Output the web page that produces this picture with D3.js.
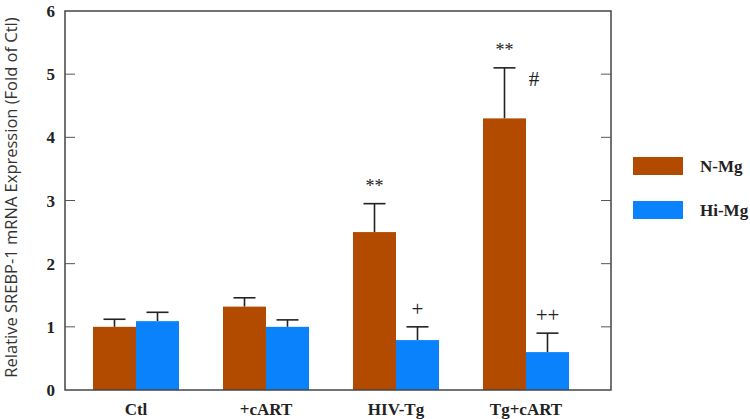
<!DOCTYPE html>
<html>
<head>
<meta charset="utf-8">
<script src="https://cdn.jsdelivr.net/npm/d3@7"></script>
<style>
  body { margin: 0; background: #fff; }
</style>
</head>
<body>
<div id="chart"></div>
<script>
// Data
const groups = ["Ctl", "+cART", "HIV-Tg", "Tg+cART"];
const series = ["N-Mg", "Hi-Mg"];
const nMg = [1.0, 1.32, 2.5, 4.3];
const nMgErr = [0.12, 0.14, 0.45, 0.8];
const hiMg = [1.09, 1.0, 0.79, 0.6];
const hiMgErr = [0.14, 0.11, 0.21, 0.3];
const nMgMarks = ["", "", "**", "**"];
const hiMgMarks = ["", "", "+", "++"];
const yTicks = [0, 1, 2, 3, 4, 5, 6];
const colors = ["#b24a00", "#0a82fb"];

const W = 750, H = 419;
const plot = { left: 65, right: 611, top: 11, bottom: 390 };
const barW = 43;

const svg = d3.select("#chart").append("svg")
  .attr("width", W).attr("height", H);

const x = d3.scalePoint().domain(groups).range([136, 526]);
const y = d3.scaleLinear().domain([0, 6]).range([plot.bottom, plot.top]);

const rows = [];
groups.forEach((g, i) => {
  rows.push({ g, s: 0, v: nMg[i], e: nMgErr[i], m: nMgMarks[i] });
  rows.push({ g, s: 1, v: hiMg[i], e: hiMgErr[i], m: hiMgMarks[i] });
});
const bx = d => x(d.g) + (d.s === 0 ? -barW : 0);

// Error bars (drawn under bars)
const eb = svg.append("g").attr("stroke", "#222").attr("stroke-width", 1.6);
eb.selectAll(".ev").data(rows).join("line")
  .attr("x1", d => bx(d) + barW / 2).attr("x2", d => bx(d) + barW / 2)
  .attr("y1", d => y(d.v)).attr("y2", d => y(d.v + d.e));
eb.selectAll(".ec").data(rows).join("line")
  .attr("x1", d => bx(d) + barW / 2 - 11).attr("x2", d => bx(d) + barW / 2 + 11)
  .attr("y1", d => y(d.v + d.e)).attr("y2", d => y(d.v + d.e));

// Bars
svg.append("g").selectAll("rect").data(rows).join("rect")
  .attr("x", bx).attr("width", barW)
  .attr("y", d => y(d.v)).attr("height", d => y(0) - y(d.v))
  .attr("fill", d => colors[d.s]);

// Significance marks
svg.append("g").selectAll("text").data(rows.filter(d => d.m)).join("text")
  .attr("x", d => bx(d) + barW / 2)
  .attr("y", d => y(d.v + d.e) - (d.s === 0 ? 12 : 11))
  .attr("text-anchor", "middle")
  .attr("font-family", "Liberation Serif, serif")
  .attr("font-size", d => d.m.includes("*") ? 18 : 21)
  .attr("fill", "#222")
  .text(d => d.m);

svg.append("text")
  .attr("x", 534).attr("y", y(4.82))
  .attr("text-anchor", "middle")
  .attr("font-family", "Liberation Serif, serif")
  .attr("font-size", 21).attr("fill", "#222")
  .text("#");

// Frame
svg.append("rect")
  .attr("x", plot.left).attr("y", plot.top)
  .attr("width", plot.right - plot.left).attr("height", plot.bottom - plot.top)
  .attr("fill", "none").attr("stroke", "#444").attr("stroke-width", 1.5);

// Ticks (inward, both sides)
const tk = svg.append("g").attr("stroke", "#555").attr("stroke-width", 1);
tk.selectAll(".l").data(yTicks.slice(1, -1)).join("line")
  .attr("x1", plot.left).attr("x2", plot.left + 10)
  .attr("y1", d => y(d)).attr("y2", d => y(d));
tk.selectAll(".r").data(yTicks.slice(1, -1)).join("line")
  .attr("x1", plot.right - 10).attr("x2", plot.right)
  .attr("y1", d => y(d)).attr("y2", d => y(d));

// Y tick labels
svg.append("g").selectAll("text").data(yTicks).join("text")
  .attr("x", 55).attr("y", d => y(d) + 6)
  .attr("text-anchor", "end")
  .attr("font-family", "Liberation Serif, serif")
  .attr("font-weight", "bold").attr("font-size", 17)
  .attr("fill", "#222")
  .text(d => d);

// X labels
svg.append("g").selectAll("text").data(groups).join("text")
  .attr("x", d => x(d)).attr("y", 415)
  .attr("text-anchor", "middle")
  .attr("font-family", "Liberation Serif, serif")
  .attr("font-weight", "bold").attr("font-size", 17)
  .attr("fill", "#222")
  .text(d => d);

// Y title
svg.append("text")
  .attr("transform", `translate(17,${(plot.top + plot.bottom) / 2 - 3}) rotate(-90)`)
  .attr("text-anchor", "middle")
  .attr("font-family", "Open Sans, sans-serif")
  .attr("font-size", 16.5).attr("fill", "#333")
  .text("Relative SREBP-1 mRNA Expression (Fold of Ctl)");

// Legend
const lg = svg.append("g").selectAll("g").data(series).join("g")
  .attr("transform", (d, i) => `translate(633,${157 + i * 44})`);
lg.append("rect").attr("width", 50).attr("height", 18)
  .attr("fill", (d, i) => colors[i]);
lg.append("text").attr("x", 67).attr("y", 15)
  .attr("font-family", "Liberation Serif, serif")
  .attr("font-weight", "bold").attr("font-size", 17)
  .attr("fill", "#222")
  .text(d => d);
</script>
</body>
</html>
